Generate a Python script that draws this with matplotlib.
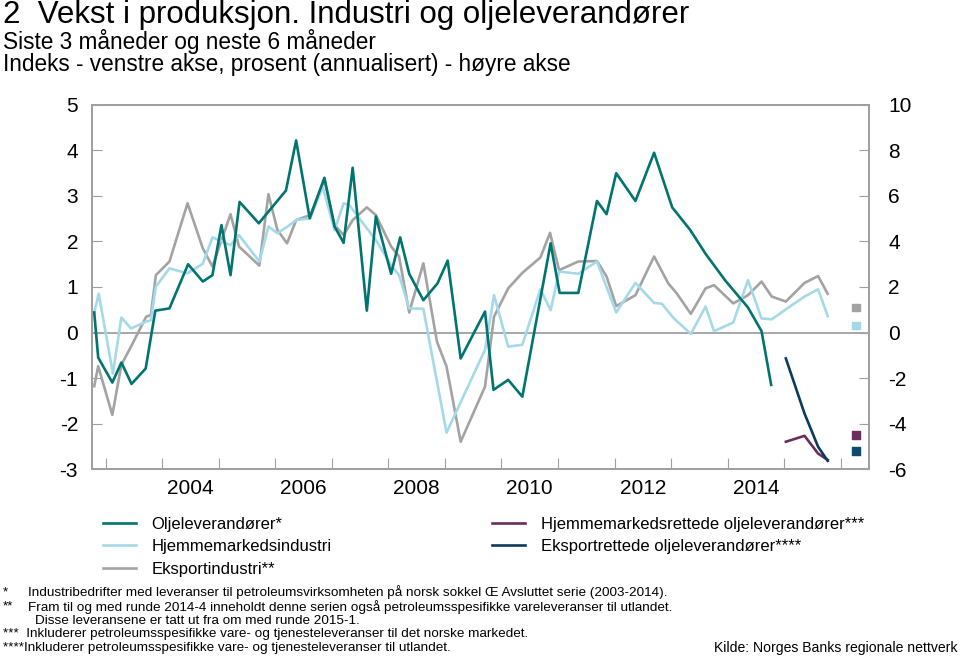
import numpy as np
import matplotlib
matplotlib.use('Agg')
import matplotlib.pyplot as plt

plt.rcParams['font.family'] = ['Liberation Sans', 'DejaVu Sans']
plt.rcParams['axes.unicode_minus'] = False

# Oljeleverandører* (index, left axis)
olje_x = [2002.80, 2002.87, 2003.12, 2003.28, 2003.46, 2003.71, 2003.88, 2004.13, 2004.46, 2004.72,
          2004.89, 2005.05, 2005.21, 2005.37, 2005.71, 2006.19, 2006.37, 2006.61, 2006.87, 2007.05,
          2007.21, 2007.37, 2007.62, 2007.78, 2008.05, 2008.21, 2008.37, 2008.62, 2008.87, 2009.05,
          2009.28, 2009.71, 2009.86, 2010.12, 2010.37, 2010.87, 2011.03, 2011.36, 2011.69, 2011.86,
          2012.03, 2012.37, 2012.70, 2013.02, 2013.34, 2013.61, 2013.96, 2014.36, 2014.60, 2014.77]
olje_y = [0.44, -0.55, -1.10, -0.66, -1.13, -0.79, 0.48, 0.53, 1.50, 1.12,
          1.26, 2.36, 1.26, 2.87, 2.40, 3.12, 4.22, 2.51, 3.40, 2.33,
          1.97, 3.62, 0.48, 2.55, 1.29, 2.09, 1.29, 0.71, 1.08, 1.58,
          -0.57, 0.46, -1.26, -1.04, -1.41, 1.96, 0.87, 0.87, 2.89, 2.60,
          3.50, 2.89, 3.95, 2.75, 2.25, 1.73, 1.14, 0.55, 0.03, -1.15]

# Hjemmemarkedsindustri (index, left axis)
hjem_x = [2002.80, 2002.88, 2003.13, 2003.28, 2003.45, 2003.72, 2003.80, 2003.89, 2004.13, 2004.45,
          2004.72, 2004.89, 2005.21, 2005.36, 2005.72, 2005.88, 2006.04, 2006.22, 2006.37, 2006.62,
          2006.84, 2007.05, 2007.21, 2007.31, 2007.78, 2008.05, 2008.19, 2008.37, 2008.62, 2009.03,
          2009.71, 2009.87, 2010.12, 2010.37, 2010.69, 2010.87, 2011.02, 2011.36, 2011.69, 2012.03,
          2012.37, 2012.70, 2012.84, 2012.95, 2013.05, 2013.35, 2013.61, 2013.76, 2014.10, 2014.36,
          2014.60, 2014.78, 2015.03, 2015.36, 2015.60, 2015.77]
hjem_y = [0.44, 0.85, -0.90, 0.33, 0.09, 0.24, 0.27, 1.01, 1.41, 1.30,
          1.51, 2.09, 1.92, 2.14, 1.56, 2.33, 2.18, 2.33, 2.47, 2.51,
          3.20, 2.25, 2.84, 2.80, 2.03, 1.48, 1.26, 0.53, 0.52, -2.20,
          -0.38, 0.82, -0.31, -0.27, 0.95, 0.49, 1.34, 1.29, 1.56, 0.44,
          1.09, 0.65, 0.63, 0.46, 0.31, -0.03, 0.57, 0.03, 0.22, 1.15,
          0.31, 0.29, 0.51, 0.79, 0.95, 0.36]

# Eksportindustri** (index, left axis)
eksp_x = [2002.80, 2002.87, 2003.12, 2003.28, 2003.45, 2003.72, 2003.80, 2003.89, 2004.13, 2004.45,
          2004.72, 2004.89, 2005.21, 2005.36, 2005.72, 2005.88, 2006.04, 2006.21, 2006.37, 2006.62,
          2006.87, 2007.05, 2007.21, 2007.37, 2007.62, 2007.78, 2008.05, 2008.19, 2008.37, 2008.62,
          2008.86, 2009.03, 2009.28, 2009.71, 2009.87, 2010.12, 2010.37, 2010.69, 2010.86, 2011.02,
          2011.36, 2011.69, 2011.86, 2012.03, 2012.37, 2012.70, 2012.95, 2013.10, 2013.35, 2013.61,
          2013.76, 2014.10, 2014.36, 2014.60, 2014.78, 2015.03, 2015.36, 2015.60, 2015.77]
eksp_y = [-1.18, -0.74, -1.81, -0.71, -0.31, 0.35, 0.38, 1.26, 1.56, 2.84,
          1.85, 1.45, 2.60, 1.89, 1.47, 3.04, 2.25, 1.96, 2.47, 2.58,
          3.35, 2.36, 2.14, 2.47, 2.75, 2.58, 1.89, 1.67, 0.44, 1.52,
          -0.20, -0.75, -2.40, -1.19, 0.35, 0.97, 1.31, 1.65, 2.19, 1.37,
          1.56, 1.57, 1.23, 0.58, 0.82, 1.67, 1.08, 0.86, 0.41, 0.97,
          1.04, 0.64, 0.82, 1.12, 0.79, 0.68, 1.09, 1.24, 0.85]

# Hjemmemarkedsrettede / Eksportrettede oljeleverandører (from 2015)
new_x = [2015.03, 2015.36, 2015.60, 2015.77]
hjemolje_y = [-2.40, -2.27, -2.66, -2.80]
eksolje_y = [-0.57, -1.78, -2.51, -2.82]

# expected growth next 6 months (percent, right axis)
forv_x = 2016.27
forv_vals = [1.1, 0.3, -4.5, -5.2]

names = ['Oljeleverandører*', 'Hjemmemarkedsindustri', 'Eksportindustri**',
         'Hjemmemarkedsrettede oljeleverandører***', 'Eksportrettede oljeleverandører****']
colors = ['#00756f', '#a6d9e8', '#a3a3a3', '#6b2d5c', '#0c3a5e']
square_colors = ['#a3a3a3', '#a6d9e8', '#6b2d5c', '#0c4a6e']

fig = plt.figure(figsize=(9.6, 6.56), dpi=100)
ax = fig.add_axes([0.0958, 0.285, 0.8094, 0.555])

lw = 1.9
h1, = ax.plot(olje_x, olje_y, color=colors[0], lw=lw, zorder=5)
h2, = ax.plot(hjem_x, hjem_y, color=colors[1], lw=lw, zorder=3)
h3, = ax.plot(eksp_x, eksp_y, color=colors[2], lw=lw, zorder=2)
h4, = ax.plot(new_x, hjemolje_y, color=colors[3], lw=lw, zorder=4)
h5, = ax.plot(new_x, eksolje_y, color=colors[4], lw=lw, zorder=4)
ax.axhline(0, color='#a0a0a0', lw=1.3, zorder=1)

ax.set_xlim(2002.76, 2016.5)
ax.set_ylim(-3, 5)
ax.set_yticks(range(-3, 6))
ax.set_xticks(range(2003, 2017))
ax.set_xticklabels([])
ax.set_xticks([y + 0.5 for y in range(2004, 2015, 2)], minor=True)
ax.set_xticklabels([str(y) for y in range(2004, 2015, 2)], minor=True)
ax.tick_params(axis='x', which='minor', length=0, labelsize=15, pad=7)
ax.tick_params(axis='x', which='major', direction='in', length=8, color='#a0a0a0')
ax.tick_params(axis='y', direction='in', length=7, color='#a0a0a0', labelsize=15, pad=10)

ax2 = ax.twinx()
ax2.set_ylim(-6, 10)
ax2.set_yticks(range(-6, 11, 2))
ax2.tick_params(axis='y', direction='in', length=7, color='#a0a0a0', labelsize=15, pad=14)
ax2.scatter([forv_x] * len(forv_vals), forv_vals, marker='s', s=28,
            c=square_colors, zorder=6, clip_on=False)

for a in (ax, ax2):
    for sp in a.spines.values():
        sp.set_color('#a0a0a0')
        sp.set_linewidth(1.3)

fig.text(0.003, 0.977, '2  Vekst i produksjon. Industri og oljeleverandører', fontsize=22.5, va='center')
fig.text(0.003, 0.936, 'Siste 3 måneder og neste 6 måneder', fontsize=16.3, va='center')
fig.text(0.003, 0.901, 'Indeks - venstre akse, prosent (annualisert) - høyre akse', fontsize=16.3, va='center')

leg_kw = dict(frameon=False, fontsize=12, handlelength=2.0, handletextpad=0.93,
              labelspacing=0.44, borderaxespad=0, borderpad=0)
fig.legend([h1, h2, h3], names[:3], loc='upper left', bbox_to_anchor=(0.107, 0.212), **leg_kw)
fig.legend([h4, h5], names[3:], loc='upper left', bbox_to_anchor=(0.5125, 0.212), **leg_kw)

notes = [
    ('*', 'Industribedrifter med leveranser til petroleumsvirksomheten på norsk sokkel Œ Avsluttet serie (2003-2014).'),
    ('**', 'Fram til og med runde 2014-4 inneholdt denne serien også petroleumsspesifikke vareleveranser til utlandet.'),
    ('', 'Disse leveransene er tatt ut fra om med runde 2015-1.'),
]
ys = [0.097, 0.075, 0.054]
xs = [0.029, 0.029, 0.036]
for (mark, txt), y, x in zip(notes, ys, xs):
    if mark:
        fig.text(0.003, y, mark, fontsize=9.7, va='center')
    fig.text(x, y, txt, fontsize=9.7, va='center')
fig.text(0.003, 0.033, '***  Inkluderer petroleumsspesifikke vare- og tjenesteleveranser til det norske markedet.',
         fontsize=9.7, va='center')
fig.text(0.003, 0.012, '****Inkluderer petroleumsspesifikke vare- og tjenesteleveranser til utlandet.',
         fontsize=9.7, va='center')
fig.text(0.997, 0.012, 'Kilde: Norges Banks regionale nettverk', fontsize=10.1, va='center', ha='right')

fig.savefig('out.png', dpi=100)
